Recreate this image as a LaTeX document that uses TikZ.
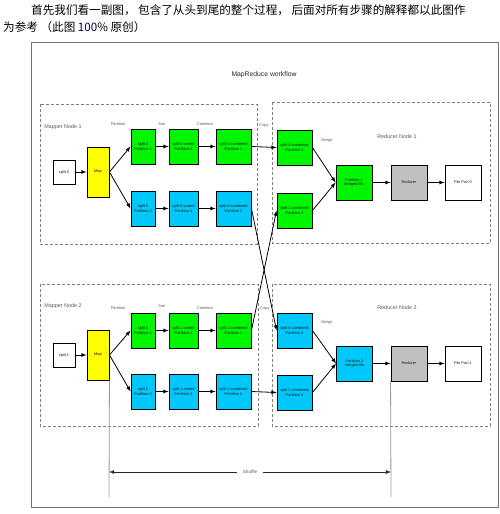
\documentclass[tikz,border=0pt]{standalone}
\usepackage{fontspec}
\setmainfont{Liberation Sans}
\newfontfamily\cjk{Noto Sans CJK SC}

\begin{document}
\begin{tikzpicture}[x=1pt,y=-1pt]
  % Colors
  \definecolor{mrgreen}{RGB}{0,245,0}
  \definecolor{mrcyan}{RGB}{0,200,250}
  \definecolor{mryellow}{RGB}{255,255,0}
  \definecolor{mrgrey}{RGB}{192,192,192}
  \colorlet{labelgrey}{black!65}

  % Styles
  \tikzstyle{box}=[draw=black,line width=0.9pt,align=center,inner sep=0.5pt,
    text=black!90,font=\fontsize{3.9}{4.8}\selectfont]
  \tikzstyle{part}=[box,minimum width=24pt,minimum height=35pt]
  \tikzstyle{sorted}=[box,minimum width=29pt,minimum height=35pt]
  \tikzstyle{comb}=[box,minimum width=35pt,minimum height=35pt]
  \tikzstyle{red}=[box,minimum width=36pt,minimum height=35pt]
  \tikzstyle{split}=[box,fill=white,minimum width=22pt,minimum height=24pt]
  \tikzstyle{mapbox}=[box,fill=mryellow,minimum width=22pt,minimum height=50pt]
  \tikzstyle{step label}=[text=labelgrey,font=\fontsize{3.9}{4.5}\selectfont]
  \tikzstyle{group label}=[text=labelgrey,font=\fontsize{5.4}{6}\selectfont]
  \tikzstyle{group}=[draw=black!50,densely dashed,line width=0.5pt]
  \tikzstyle{vector}=[-latex,line width=0.8pt]

  \useasboundingbox (0,0) rectangle (500,514);

  % Header
  \node[anchor=west,inner sep=0pt,font=\cjk\fontsize{11.6}{13}\selectfont] (head1) at (31,10)
    {首先我们看一副图， 包含了从头到尾的整个过程， 后面对所有步骤的解释都以此图作};
  \node[anchor=west,inner sep=0pt,font=\cjk\fontsize{11.6}{13}\selectfont] (head2) at (3,27)
    {为参考 （此图 {\color{blue!35!black}100}\% 原创）};

  % The graphic
  \draw[black!55,line width=0.8pt] (31,42) rectangle (498,507);
  \node[font=\fontsize{6.8}{7}\selectfont,text=black!85] (title) at (264,75) {MapReduce workflow};

  \draw[group] (40,104) rectangle (257,244);
  \draw[group] (272,102) rectangle (490,243);
  \draw[group] (40,284) rectangle (258,426);
  \draw[group] (272,284) rectangle (490,426);

  % Mapper Node 1
  \node[group label] (gm1) at (63,127) {Mapper Node 1};
  \node[split] (sp0) at (64,172) {split 0};
  \node[mapbox] (mapA) at (98,172) {Map};
  \node[part,fill=mrgreen] (a11) at (143,146.5) {split 0\\Partition 1};
  \node[sorted,fill=mrgreen] (a12) at (183.5,146.5) {split 0 sorted\\Partition 1};
  \node[comb,fill=mrgreen] (a13) at (233.5,146.5) {split 0 combined\\Partition 1};
  \node[part,fill=mrcyan] (a21) at (143,208.5) {split 0\\Partition 2};
  \node[sorted,fill=mrcyan] (a22) at (183.5,208.5) {split 0 sorted\\Partition 2};
  \node[comb,fill=mrcyan] (a23) at (233.5,208.5) {split 0 combined\\Partition 2};

  % Mapper Node 2
  \node[group label] (gm2) at (63,306) {Mapper Node 2};
  \node[split] (sp1) at (64,355) {split 1};
  \node[mapbox] (mapB) at (98,355) {Map};
  \node[part,fill=mrgreen] (b11) at (143,330.5) {split 1\\Partition 1};
  \node[sorted,fill=mrgreen] (b12) at (183.5,330.5) {split 1 sorted\\Partition 1};
  \node[comb,fill=mrgreen] (b13) at (233.5,330.5) {split 1 combined\\Partition 1};
  \node[part,fill=mrcyan] (b21) at (143,391.5) {split 1\\Partition 2};
  \node[sorted,fill=mrcyan] (b22) at (183.5,391.5) {split 1 sorted\\Partition 2};
  \node[comb,fill=mrcyan] (b23) at (233.5,391.5) {split 1 combined\\Partition 2};

  % Reducer Node 1
  \node[group label] (gr1) at (397,137) {Reducer Node 1};
  \node[comb,fill=mrgreen] (r1a) at (294.5,147.5) {split 0 combined\\Partition 1};
  \node[comb,fill=mrgreen] (r1b) at (294.5,210.5) {split 1 combined\\Partition 1};
  \node[red,fill=mrgreen] (mg1) at (354,182.5) {Partition 1\\Merged file};
  \node[red,fill=mrgrey] (rd1) at (409,182.5) {Reducer};
  \node[red,fill=white] (fp0) at (463,182.5) {File Part 0};

  % Reducer Node 2
  \node[group label] (gr2) at (397,308) {Reducer Node 2};
  \node[comb,fill=mrcyan] (r2a) at (294.5,330.5) {split 0 combined\\Partition 2};
  \node[comb,fill=mrcyan] (r2b) at (294.5,392.5) {split 1 combined\\Partition 2};
  \node[red,fill=mrcyan] (mg2) at (354.5,363.5) {Partition 2\\Merged file};
  \node[red,fill=mrgrey] (rd2) at (409,363.5) {Reducer};
  \node[red,fill=white] (fp1) at (463,363.5) {File Part 1};

  % Step labels
  \foreach \y/\n in {124/1,308/2}
  {
    \node[step label] (part\n) at (118,\y) {Partition};
    \node[step label] (comb\n) at (205,\y) {Combine};
  }
  \node[step label] (sort1) at (162,124) {Sort};
  \node[step label] (sort2) at (162,306) {Sort};
  \node[step label] (copy1) at (264,126) {Copy};
  \node[step label] (copy2) at (265,309) {Copy};
  \node[step label] (merge1) at (327,141) {Merge};
  \node[step label] (merge2) at (327,323) {Merge};

  % Arrows
  \foreach \s/\t in {sp0/mapA,a11/a12,a12/a13,a21/a22,a22/a23,
                     sp1/mapB,b11/b12,b12/b13,b21/b22,b22/b23,
                     a13/r1a,b23/r2b,a23/r2a,b13/r1b,
                     r1a/mg1,r1b/mg1,mg1/rd1,rd1/fp0,
                     r2a/mg2,r2b/mg2,mg2/rd2,rd2/fp1}
    \draw[vector] (\s.east) -- (\t.west);
  \foreach \s/\t in {mapA/a11,mapA/a21,mapB/b11,mapB/b21}
    \draw[vector] (\s.east) -- (\t.west);

  % Shuffle
  \coordinate (shl) at (109,497);
  \coordinate (shr) at (391,497);
  \draw[black!40,line width=0.8pt] (mapB.south east) -- (shl);
  \draw[black!40,line width=0.8pt] (rd2.south west) -- (shr);
  \coordinate (sha) at (109,472);
  \coordinate (shb) at (391,472);
  \draw[latex-latex,line width=0.8pt,black!85] (sha) -- node[fill=white,text=labelgrey,
    font=\fontsize{4.6}{5}\selectfont,inner xsep=6pt] (shuffle) {Shuffle} (shb);
\end{tikzpicture}
\end{document}
